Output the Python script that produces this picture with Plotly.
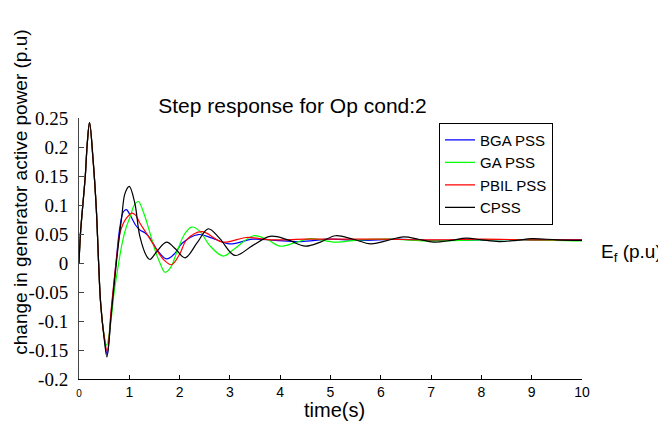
import plotly.graph_objects as go

# ---- data ----
t_bga = [0, 0.03, 0.08, 0.125, 0.165, 0.21, 0.28, 0.345, 0.39, 0.43, 0.5, 0.56, 0.64, 0.74, 0.81, 0.88, 0.94,
         1.02, 1.12, 1.21, 1.31, 1.42, 1.55, 1.74, 1.9, 2.05, 2.37, 2.65, 3.0, 3.45, 3.9, 4.4, 5.0, 5.6, 6.3,
         7.0, 8.0, 9.0, 10]
v_bga = [0, 0.052, 0.104, 0.15, 0.207, 0.242, 0.178, 0.092, 0.0, -0.069, -0.127, -0.158, -0.085, 0.004, 0.06,
         0.088, 0.092, 0.082, 0.066, 0.057, 0.052, 0.042, 0.023, 0.007, 0.016, 0.034, 0.049, 0.043, 0.033, 0.041,
         0.039, 0.037, 0.041, 0.039, 0.041, 0.039, 0.04, 0.04, 0.04]

t_ga = [0, 0.03, 0.08, 0.125, 0.165, 0.21, 0.28, 0.345, 0.39, 0.43, 0.5, 0.55, 0.62, 0.7, 0.78, 0.86, 0.94,
        1.01, 1.1, 1.18, 1.28, 1.41, 1.52, 1.61, 1.71, 1.82, 1.95, 2.1, 2.24, 2.4, 2.6, 2.87, 3.1, 3.47, 3.75,
        4.0, 4.3, 4.6, 5.1, 5.6, 6.2, 7.0, 8.0, 9.0, 10]
v_ga = [0, 0.052, 0.104, 0.15, 0.207, 0.242, 0.178, 0.092, 0.0, -0.069, -0.125, -0.142, -0.11, -0.05, -0.005,
        0.035, 0.062, 0.078, 0.1, 0.106, 0.088, 0.052, 0.02, 0.0, -0.016, -0.008, 0.02, 0.05, 0.062, 0.055,
        0.03, 0.012, 0.025, 0.047, 0.04, 0.029, 0.035, 0.042, 0.036, 0.04, 0.041, 0.038, 0.04, 0.04, 0.038]

t_pbil = [0, 0.03, 0.08, 0.125, 0.165, 0.21, 0.28, 0.345, 0.39, 0.43, 0.5, 0.56, 0.64, 0.74, 0.81, 0.88, 0.94,
          1.05, 1.12, 1.21, 1.35, 1.48, 1.68, 1.84, 2.0, 2.14, 2.44, 2.86, 3.33, 3.8, 4.5, 5.2, 6.0, 7.0, 8.0,
          9.0, 10]
v_pbil = [0, 0.052, 0.104, 0.15, 0.207, 0.242, 0.178, 0.092, 0.0, -0.069, -0.127, -0.152, -0.08, 0.003, 0.05,
          0.068, 0.077, 0.086, 0.083, 0.069, 0.05, 0.032, 0.006, -0.003, 0.015, 0.04, 0.054, 0.036, 0.044, 0.04,
          0.041, 0.041, 0.041, 0.04, 0.041, 0.04, 0.04]

t_cpss = [0, 0.03, 0.08, 0.125, 0.165, 0.21, 0.28, 0.345, 0.39, 0.43, 0.5, 0.555, 0.64, 0.75, 0.85, 0.915, 1.0,
          1.11, 1.21, 1.35, 1.41, 1.55, 1.74, 1.92, 2.11, 2.35, 2.57, 2.8, 3.1, 3.45, 3.8, 4.15, 4.5, 4.8, 5.1,
          5.45, 5.8, 6.1, 6.45, 6.75, 7.05, 7.4, 7.7, 8.0, 8.35, 8.7, 9.0, 9.5, 10]
v_cpss = [0, 0.052, 0.104, 0.15, 0.207, 0.242, 0.178, 0.092, 0.0, -0.069, -0.13, -0.162, -0.09, 0.006, 0.08,
          0.12, 0.132, 0.103, 0.046, 0.011, 0.006, 0.02, 0.036, 0.024, 0.009, 0.035, 0.059, 0.042, 0.013, 0.03,
          0.046, 0.04, 0.029, 0.036, 0.047, 0.041, 0.033, 0.038, 0.045, 0.041, 0.036, 0.039, 0.043, 0.04, 0.037,
          0.039, 0.042, 0.04, 0.039]

series_names = ["BGA PSS", "GA PSS", "PBIL PSS", "CPSS"]
series_colors = ["#0000ff", "#00ff00", "#ff0000", "#000000"]

x_ticks = [0, 1, 2, 3, 4, 5, 6, 7, 8, 9, 10]
x_ticktext = ["<span style='font-size:10px'>0</span>", "1", "2", "3", "4", "5", "6", "7", "8", "9", "10"]
y_ticks = [0.25, 0.2, 0.15, 0.1, 0.05, 0, -0.05, -0.1, -0.15, -0.2]
y_ticktext = ["0.25", "0.2", "0.15", "0.1", "0.05", "0", "-0.05", "-0.1", "-0.15", "-0.2"]

# page body has an 8px margin, so the figure is drawn 8px smaller and offset
W, H, OFF = 666 - 8, 425 - 8, 8
px_left, px_right, px_top, px_bottom = 79, 582, 118.3, 379.3   # plot area in page pixels


def paper_x(px):
    return (px - px_left) / (px_right - px_left)


def paper_y(py):
    return (px_bottom - py) / (px_bottom - px_top)


fig = go.Figure()
for name, color, t, v in zip(series_names, series_colors,
                             [t_bga, t_ga, t_pbil, t_cpss], [v_bga, v_ga, v_pbil, v_cpss]):
    fig.add_trace(go.Scatter(x=t, y=v, mode="lines", name=name,
                             line=dict(color=color, width=1.2, shape="spline", smoothing=1.0)))

fig.update_layout(
    width=W, height=H,
    margin=dict(l=px_left - OFF, r=W - (px_right - OFF), t=px_top - OFF, b=H - (px_bottom - OFF)),
    paper_bgcolor="white", plot_bgcolor="white",
    font=dict(family="Liberation Sans, Arial, sans-serif", color="black"),
    showlegend=True,
    legend=dict(x=paper_x(439), y=paper_y(123), xanchor="left", yanchor="top",
                bordercolor="black", borderwidth=1, bgcolor="white",
                font=dict(size=15, family="Liberation Sans, Arial, sans-serif"),
                tracegroupgap=0, itemwidth=30),
    title=dict(text="Step response for Op cond:2", xref="paper", x=paper_x(292.5), xanchor="center",
               yref="container", y=1 - (106 - OFF) / H, yanchor="middle",
               font=dict(size=21, family="Liberation Sans, Arial, sans-serif")),
)
fig.update_xaxes(range=[0, 10], tickvals=x_ticks, ticktext=x_ticktext, ticks="inside", ticklen=4,
                 tickcolor="black", showline=True, linecolor="black", linewidth=1, showgrid=False,
                 zeroline=False, mirror=False, tickfont=dict(size=14), fixedrange=True)
fig.update_yaxes(range=[-0.2, 0.25], tickvals=y_ticks, ticktext=y_ticktext, ticks="inside", ticklen=5,
                 tickcolor="#444", showline=True, linecolor="#444", linewidth=1, showgrid=False,
                 zeroline=False, mirror=False, ticklabelstandoff=6,
                 tickfont=dict(size=19, family="Liberation Serif, Times New Roman, serif"))

fig.add_annotation(text="change in generator active power (p.u)", textangle=-90,
                   xref="paper", yref="paper", x=paper_x(21), y=paper_y(193),
                   xanchor="center", yanchor="middle", showarrow=False, borderpad=0,
                   font=dict(size=19, family="Liberation Sans, Arial, sans-serif"))
fig.add_annotation(text="time(s)", xref="paper", yref="paper", x=paper_x(334), y=paper_y(410),
                   xanchor="center", yanchor="middle", showarrow=False,
                   font=dict(size=20, family="Liberation Sans, Arial, sans-serif"))
fig.add_annotation(text="E<sub>f</sub> (p.u)", xref="paper", yref="paper", x=paper_x(599),
                   y=paper_y(253), xanchor="left", yanchor="middle", showarrow=False,
                   font=dict(size=19, family="Liberation Sans, Arial, sans-serif"))

fig.write_html("out.html")
